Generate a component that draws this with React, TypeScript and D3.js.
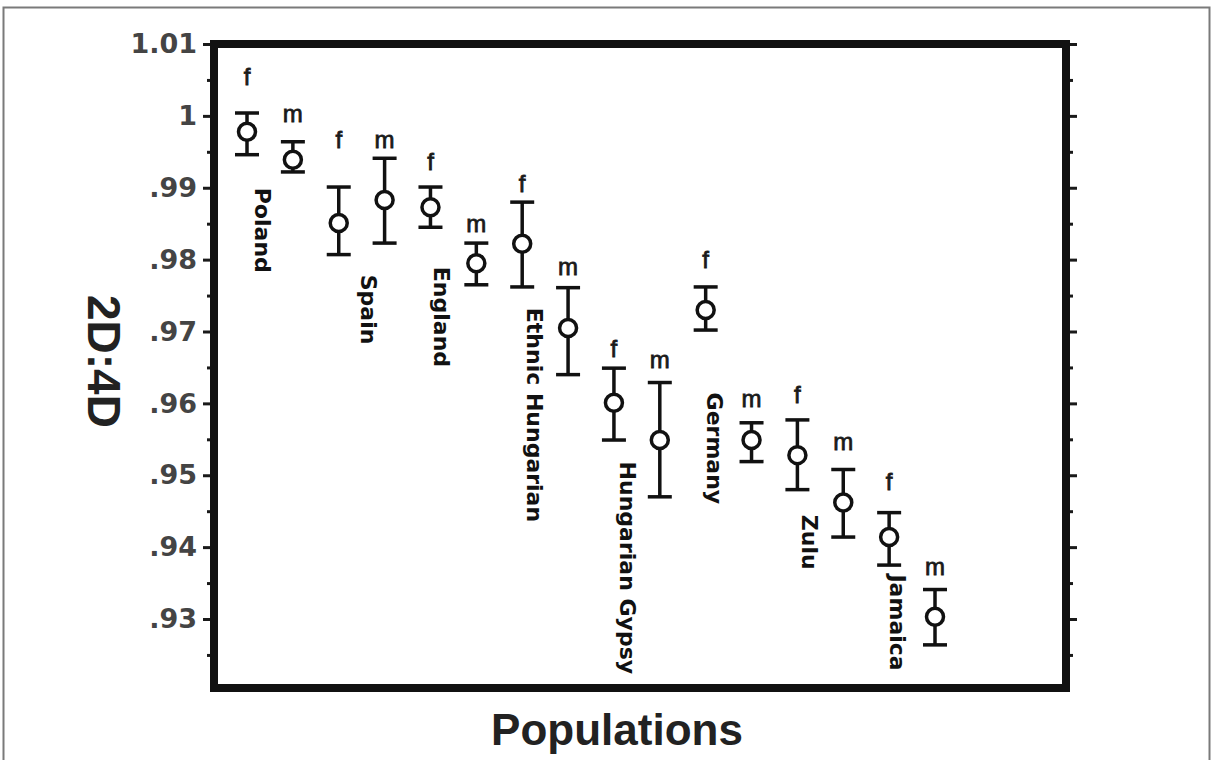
import { useEffect, useRef } from "react";
import * as d3 from "d3";

// 2D:4D means with error bars, by population and sex (left to right)
const sexes = ["f", "m", "f", "m", "f", "m", "f", "m", "f", "m", "f", "m", "f", "m", "f", "m"];
const means = [0.9978, 0.9939, 0.9851, 0.9883, 0.9873, 0.9795, 0.9822, 0.9705, 0.9601, 0.9549, 0.973, 0.9549, 0.9528, 0.9462, 0.9414, 0.9303];
const upper = [1.0004, 0.9964, 0.9901, 0.9941, 0.9901, 0.9823, 0.988, 0.9761, 0.9649, 0.9629, 0.9762, 0.9573, 0.9577, 0.9508, 0.9448, 0.9341];
const lower = [0.9946, 0.9922, 0.9807, 0.9823, 0.9845, 0.9765, 0.9762, 0.964, 0.9549, 0.947, 0.9702, 0.9519, 0.948, 0.9414, 0.9375, 0.9264];
// where the f / m letter sits (baseline, in 2D:4D units)
const sexLabelAt = [1.0043, 0.9992, 0.9955, 0.9955, 0.9925, 0.9839, 0.9894, 0.9779, 0.9665, 0.9649, 0.9788, 0.9595, 0.9601, 0.9535, 0.948, 0.9361];

const populations = ["Poland", "Spain", "England", "Ethnic Hungarian", "Hungarian Gypsy", "Germany", "Zulu", "Jamaica"];
// anchor of each population label: x in point-index units, top in 2D:4D units
const populationLabelIdx = [0.17, 2.49, 4.08, 6.1, 8.13, 10.03, 12.1, 14.02];
const populationLabelTop = [0.99, 0.9779, 0.979, 0.9733, 0.9519, 0.9615, 0.9445, 0.9362];

const majorTicks = [0.93, 0.94, 0.95, 0.96, 0.97, 0.98, 0.99, 1.0, 1.01];
const minorTicks = [0.925, 0.935, 0.945, 0.955, 0.965, 0.975, 0.985, 0.995, 1.005];

const W = 1213;
const H = 760;
const frame = { left: 214, right: 1066, top: 44, bottom: 688 };

const fmtTick = (d: number) => {
  const s = d3.format(".2f")(d).replace(/\.?0+$/, "");
  return s.startsWith("0") ? s.slice(1) : s;
};

export default function App() {
  const svgRef = useRef<SVGSVGElement>(null);

  useEffect(() => {
    if (!svgRef.current) return;
    const svg = d3.select(svgRef.current);
    svg.selectAll("*").remove();

    const y = d3.scaleLinear().domain([0.93, 1.01]).range([619, 44]);
    const x = d3.scaleLinear().domain([0, 15]).range([247, 935]);

    svg.append("rect").attr("width", W).attr("height", H).attr("fill", "#fff");

    // outer thin border
    svg.append("rect")
      .attr("x", 3.5).attr("y", 7.5)
      .attr("width", 1206).attr("height", H)
      .attr("fill", "none").attr("stroke", "#7a7a7a").attr("stroke-width", 2);

    // ticks, left
    const leftAxis = svg.append("g")
      .attr("transform", `translate(${frame.left - 4},0)`)
      .call(d3.axisLeft(y).tickValues(majorTicks).tickSize(7).tickPadding(6).tickFormat((d) => fmtTick(+d)));
    leftAxis.select(".domain").remove();
    leftAxis.selectAll("line").attr("stroke", "#1a1a1a").attr("stroke-width", 3);
    leftAxis.selectAll("text")
      .attr("font-family", "DejaVu Sans, sans-serif")
      .attr("font-weight", "bold")
      .attr("font-size", 27)
      .attr("fill", "#444");

    const leftMinor = svg.append("g")
      .attr("transform", `translate(${frame.left - 4},0)`)
      .call(d3.axisLeft(y).tickValues(minorTicks).tickSize(3).tickFormat(() => ""));
    leftMinor.select(".domain").remove();
    leftMinor.selectAll("line").attr("stroke", "#1a1a1a").attr("stroke-width", 3);

    // ticks, right
    const rightAxis = svg.append("g")
      .attr("transform", `translate(${frame.right + 4},0)`)
      .call(d3.axisRight(y).tickValues(majorTicks).tickSize(7).tickFormat(() => ""));
    rightAxis.select(".domain").remove();
    rightAxis.selectAll("line").attr("stroke", "#1a1a1a").attr("stroke-width", 3);

    const rightMinor = svg.append("g")
      .attr("transform", `translate(${frame.right + 4},0)`)
      .call(d3.axisRight(y).tickValues(minorTicks).tickSize(3).tickFormat(() => ""));
    rightMinor.select(".domain").remove();
    rightMinor.selectAll("line").attr("stroke", "#1a1a1a").attr("stroke-width", 3);

    // plot frame
    svg.append("rect")
      .attr("x", frame.left).attr("y", frame.top)
      .attr("width", frame.right - frame.left).attr("height", frame.bottom - frame.top)
      .attr("fill", "none").attr("stroke", "#111").attr("stroke-width", 8);

    // error bars
    const idx = d3.range(means.length);
    const capW = 12;
    const bars = svg.append("g").attr("stroke", "#111").attr("stroke-width", 3.5);
    bars.selectAll("line.whisker")
      .data(idx)
      .join("line")
      .attr("class", "whisker")
      .attr("x1", (i) => x(i)).attr("x2", (i) => x(i))
      .attr("y1", (i) => y(upper[i])).attr("y2", (i) => y(lower[i]));
    bars.selectAll("line.capTop")
      .data(idx)
      .join("line")
      .attr("class", "capTop")
      .attr("x1", (i) => x(i) - capW).attr("x2", (i) => x(i) + capW)
      .attr("y1", (i) => y(upper[i])).attr("y2", (i) => y(upper[i]));
    bars.selectAll("line.capBottom")
      .data(idx)
      .join("line")
      .attr("class", "capBottom")
      .attr("x1", (i) => x(i) - capW).attr("x2", (i) => x(i) + capW)
      .attr("y1", (i) => y(lower[i])).attr("y2", (i) => y(lower[i]));
    bars.selectAll("circle")
      .data(idx)
      .join("circle")
      .attr("cx", (i) => x(i))
      .attr("cy", (i) => y(means[i]))
      .attr("r", 8.5)
      .attr("fill", "#fff");

    // f / m letters
    svg.append("g")
      .selectAll("text")
      .data(idx)
      .join("text")
      .attr("x", (i) => x(i))
      .attr("y", (i) => y(sexLabelAt[i]))
      .attr("text-anchor", "middle")
      .attr("font-family", "Liberation Sans, Arial, sans-serif")
      .attr("font-size", 24)
      .attr("fill", "#1a1a1a")
      .attr("stroke", "#1a1a1a")
      .attr("stroke-width", 0.8)
      .text((i) => sexes[i]);

    // population names, rotated
    svg.append("g")
      .selectAll("text")
      .data(populations)
      .join("text")
      .attr("transform", (_, k) => `translate(${x(populationLabelIdx[k])},${y(populationLabelTop[k])}) rotate(90)`)
      .attr("font-family", "DejaVu Sans, sans-serif")
      .attr("font-weight", "bold")
      .attr("font-size", 22)
      .attr("fill", "#111")
      .text((d) => d);

    // axis titles
    svg.append("text")
      .attr("transform", "translate(88,295) rotate(90)")
      .attr("font-family", "Liberation Sans, Arial, sans-serif")
      .attr("font-weight", "bold")
      .attr("font-size", 46)
      .attr("fill", "#222")
      .text("2D:4D");

    svg.append("text")
      .attr("x", 617)
      .attr("y", 745)
      .attr("text-anchor", "middle")
      .attr("font-family", "Liberation Sans, Arial, sans-serif")
      .attr("font-weight", "bold")
      .attr("font-size", 44)
      .attr("fill", "#222")
      .text("Populations");
  }, []);

  return (
    <svg
      ref={svgRef}
      width={W}
      height={H}
      style={{ position: "absolute", left: 0, top: 0, display: "block" }}
    />
  );
}
